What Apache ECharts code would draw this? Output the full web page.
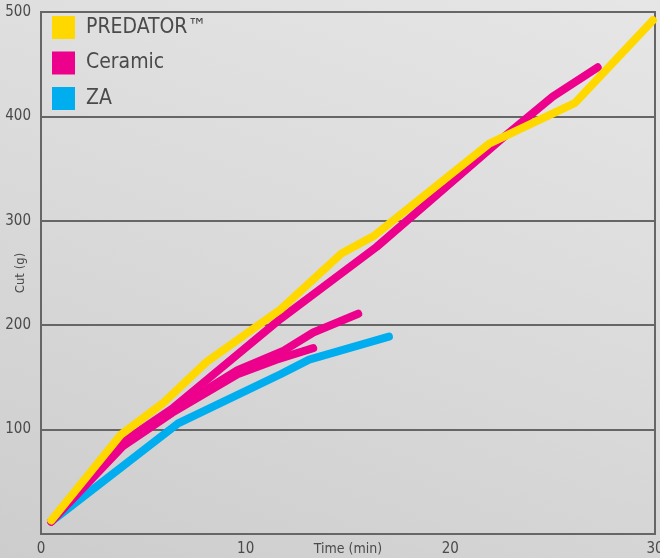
<!DOCTYPE html>
<html>
<head>
<meta charset="utf-8">
<script src="https://cdn.jsdelivr.net/npm/echarts@6/dist/echarts.min.js"></script>
<style>
html,body{margin:0;padding:0;}
body{width:660px;height:558px;background:linear-gradient(20deg,#cdcdcd 0%,#d9d9d9 45%,#e6e6e6 100%);}
#c{width:660px;height:558px;}
</style>
</head>
<body>
<div id="c"></div>
<script>
var seriesNames = ['PREDATOR™', 'Ceramic', 'ZA'];
var xTicks = [0, 10, 20, 30];
var yTicks = [100, 200, 300, 400, 500];

// [time (min), cut (g)]
var predator = [[0.5,13],[3.9,95],[6,126],[8.1,165],[11.7,215],[14.7,269],[16.3,286],[21.9,374],[26.1,413],[29.9,492]];
var ceramic1 = [[0.5,12],[4,88],[6.4,120],[11.7,206],[16.4,275],[22.6,380],[25,419],[27.2,447]];
var ceramic2 = [[0.5,12],[4,86],[6.4,118],[9.6,157],[11.8,175],[13.3,193],[15.5,211]];
var ceramic3 = [[0.5,12],[4,84],[6.4,116],[9.6,153],[11.5,167],[13.3,178]];
var za = [[0.5,12],[6.7,106],[11.7,153],[13.1,167],[17,189]];

var colors = {'PREDATOR™':'#FFD800','Ceramic':'#EC008C','ZA':'#00AEEF'};
var font = '"DejaVu Sans Condensed","Liberation Sans Narrow",sans-serif';
var txt = '#4a4a4a';

function line(name, data, z){
  return {
    name: name, type: 'line', data: data, symbol: 'none', z: z, silent: true,
    lineStyle: {color: colors[name], width: 8, cap: 'round', join: 'round'},
    itemStyle: {color: colors[name]}
  };
}

var chart = echarts.init(document.getElementById('c'));
chart.setOption({
  backgroundColor: 'transparent',
  animation: false,
  textStyle: {fontFamily: font},
  grid: {left: 41, right: 5, top: 12, bottom: 24, containLabel: false, outerBoundsMode: 'none',
    show: true, borderColor: '#666', borderWidth: 2, backgroundColor: 'transparent'},
  legend: {
    data: seriesNames, orient: 'vertical', left: 52, top: 16, padding: 0,
    itemWidth: 23, itemHeight: 23, itemGap: 12.5, icon: 'rect',
    textStyle: {fontFamily: font, fontSize: 21, color: txt, padding: [0,0,0,6]}
  },
  xAxis: {
    type: 'value', min: xTicks[0], max: xTicks[xTicks.length-1], interval: 10,
    name: 'Time (min)', nameLocation: 'middle', nameGap: 8, nameMoveOverlap: false,
    nameTextStyle: {fontFamily: font, fontSize: 14, color: txt},
    axisLine: {show: true, lineStyle: {color: '#666', width: 2}},
    axisTick: {show: false},
    splitLine: {show: false},
    axisLabel: {fontFamily: font, fontSize: 15, color: txt, margin: 8}
  },
  yAxis: {
    type: 'value', min: 0, max: yTicks[yTicks.length-1], interval: 100,
    name: 'Cut (g)', nameLocation: 'middle', nameGap: 14, nameRotate: 90, nameMoveOverlap: false,
    nameTextStyle: {fontFamily: font, fontSize: 13, color: txt},
    axisLine: {show: true, lineStyle: {color: '#666', width: 2}},
    axisTick: {show: false},
    splitLine: {show: true, lineStyle: {color: '#666', width: 2}},
    axisLabel: {fontFamily: font, fontSize: 15, color: txt, margin: 10,
      formatter: function(v){ return v === 0 ? '' : String(v); }}
  },
  series: [
    line('ZA', za, 2),
    line('Ceramic', ceramic3, 3),
    line('Ceramic', ceramic2, 3),
    line('Ceramic', ceramic1, 3),
    line('PREDATOR™', predator, 4)
  ]
});
</script>
</body>
</html>
